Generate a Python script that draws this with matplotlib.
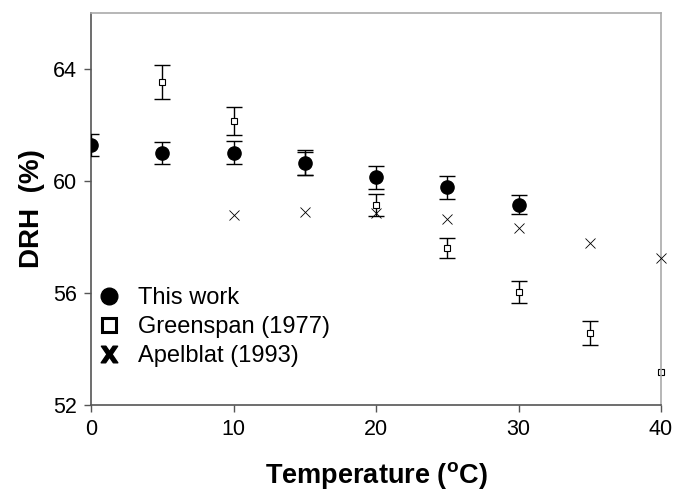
import numpy as np
import matplotlib.pyplot as plt
from matplotlib.lines import Line2D

plt.rcParams['font.family'] = ['Liberation Sans', 'DejaVu Sans']

# This work
t_this = [0, 5, 10, 15, 20, 25, 30]
drh_this = [61.28, 60.98, 61.0, 60.62, 60.12, 59.76, 59.15]
err_this = [0.4, 0.4, 0.4, 0.42, 0.4, 0.4, 0.35]

# Greenspan (1977)
t_green = [5, 10, 15, 20, 25, 30, 35, 40]
drh_green = [63.52, 62.14, 60.65, 59.14, 57.6, 56.02, 54.57, 53.16]
err_green = [0.6, 0.5, 0.45, 0.4, 0.36, 0.39, 0.43, 0.0]

# Apelblat (1993)
t_apel = [10, 15, 20, 25, 30, 35, 40]
drh_apel = [58.76, 58.87, 58.85, 58.64, 58.33, 57.78, 57.25]

fig = plt.figure(figsize=(6.78, 4.91), dpi=100)
ax = fig.add_axes([0.1342, 0.1752, 0.975 - 0.1342, 0.9745 - 0.1752])

# error bars only where an error is given
g = np.array(err_green) > 0
ax.errorbar(np.array(t_green)[g], np.array(drh_green)[g],
            yerr=np.array(err_green)[g], fmt='none', ecolor='black',
            elinewidth=1, capsize=6, capthick=1, zorder=2)
ax.plot(t_green, drh_green, 's', ms=5, mfc='white', mec='black', mew=0.8,
        zorder=2, clip_on=False)
ax.errorbar(t_this, drh_this, yerr=err_this, fmt='o', ms=9.5, color='black',
            ecolor='black', elinewidth=1, capsize=6, capthick=1, zorder=3)
ax.plot(t_apel, drh_apel, 'x', ms=7, mew=0.6, color='black', zorder=4,
        clip_on=False)

ax.set_xlim(0, 40)
ax.set_ylim(52, 66)
ax.set_xticks([0, 10, 20, 30, 40])
ax.set_yticks([52, 56, 60, 64])
ax.tick_params(direction='out', length=5, width=1, color='#555555',
               labelsize=15.5, pad=5)

for s in ['left', 'bottom']:
    ax.spines[s].set_color('#555555')
    ax.spines[s].set_linewidth(1.2)
for s in ['top', 'right']:
    ax.spines[s].set_color('#aaaaaa')
    ax.spines[s].set_linewidth(1.2)

ax.set_ylabel('DRH  (%)', fontsize=20, fontweight='bold', labelpad=6)
fig.text(0.555, 0.0, r'Temperature ($^{\mathregular{o}}$C)', fontsize=19.5,
         fontweight='bold', ha='center', va='bottom')

handles = [
    Line2D([], [], ls='none', marker='o', ms=12, color='black'),
    Line2D([], [], ls='none', marker='s', ms=10, mfc='white', mec='black', mew=2.2),
    Line2D([], [], ls='none', marker=r'$\mathbf{X}$', ms=12, color='black'),
]
labels = ['This work', 'Greenspan (1977)', 'Apelblat (1993)']
ax.legend(handles, labels, loc='upper left', bbox_to_anchor=(-0.005, 0.325),
          frameon=False, fontsize=17, handlelength=1.0, handletextpad=0.7,
          labelspacing=0.3, borderaxespad=0)

fig.savefig('out.png', dpi=100)
